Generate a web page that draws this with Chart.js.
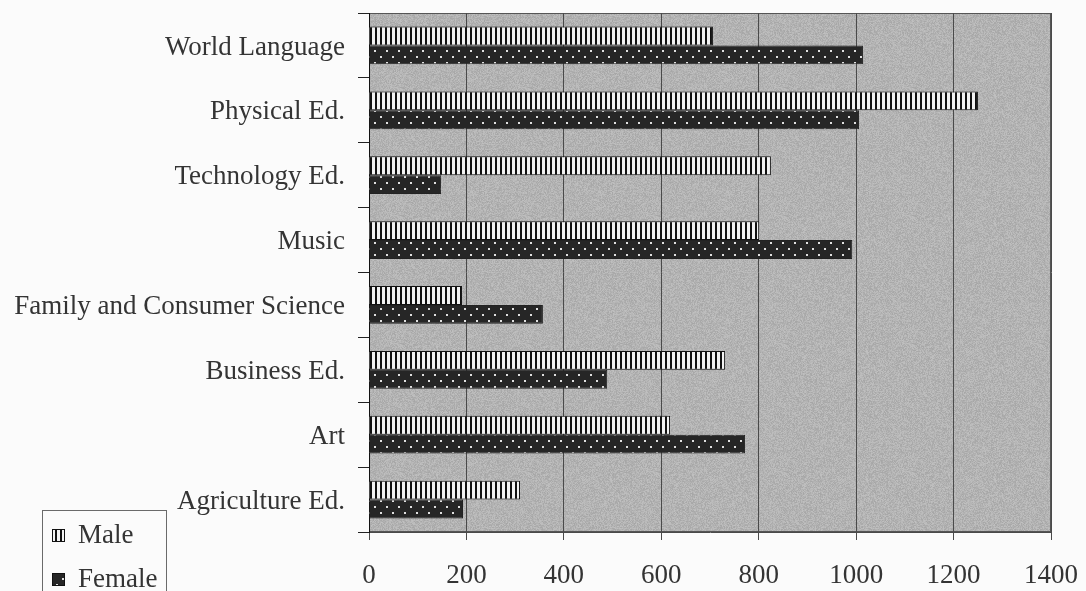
<!DOCTYPE html>
<html>
<head>
<meta charset="utf-8">
<script src="https://cdn.jsdelivr.net/npm/chart.js@4"></script>
<style>
  html, body { margin: 0; padding: 0; background: #fbfbfb; }
  #wrap { width: 1086px; height: 591px; position: relative; }
</style>
</head>
<body>
<div id="wrap"><canvas id="chart"></canvas></div>
<script>
// Enrollment by subject area and gender
const subjects = [
  'World Language', 'Physical Ed.', 'Technology Ed.', 'Music',
  'Family and Consumer Science', 'Business Ed.', 'Art', 'Agriculture Ed.'
];
const male   = [706, 1250, 825, 801, 191, 731, 618, 310];
const female = [1014, 1006, 148, 992, 357, 489, 772, 193];
const xTicks = [0, 200, 400, 600, 800, 1000, 1200, 1400];

const SERIF = '"Liberation Serif", "Times New Roman", serif';
const INK = '#343434';

// Vertical black/white stripes for the first series
function stripePattern() {
  const c = document.createElement('canvas');
  c.width = 5; c.height = 4;
  const g = c.getContext('2d');
  g.fillStyle = '#111';
  g.fillRect(0, 0, 5, 4);
  g.fillStyle = '#f2f2f2';
  g.fillRect(2, 0, 3, 4);
  return g.createPattern(c, 'repeat');
}

// Dark fill with a staggered grid of light dots for the second series
function dotPattern() {
  const c = document.createElement('canvas');
  c.width = 12; c.height = 12;
  const g = c.getContext('2d');
  g.fillStyle = '#262626';
  g.fillRect(0, 0, 12, 12);
  g.fillStyle = '#e0e0e0';
  g.fillRect(2, 2, 2, 2);
  g.fillRect(8, 8, 2, 2);
  return g.createPattern(c, 'repeat');
}

// Grainy grey texture for the plotting area (deterministic hash noise)
function grainPattern() {
  const size = 128;
  const c = document.createElement('canvas');
  c.width = size; c.height = size;
  const g = c.getContext('2d');
  const img = g.createImageData(size, size);
  for (let y = 0; y < size; y++) {
    for (let x = 0; x < size; x++) {
      let n = Math.imul(x, 374761393) + Math.imul(y, 668265263);
      n = Math.imul(n ^ (n >>> 13), 1274126177);
      n = (n ^ (n >>> 16)) & 255;
      const v = 179 + Math.round((n / 255 - 0.5) * 26);
      const i = (y * size + x) * 4;
      img.data[i] = v; img.data[i + 1] = v; img.data[i + 2] = v; img.data[i + 3] = 255;
    }
  }
  g.putImageData(img, 0, 0);
  return g.createPattern(c, 'repeat');
}

const plotBackground = {
  id: 'plotBackground',
  beforeDraw(chart) {
    const { ctx, chartArea: a } = chart;
    ctx.save();
    ctx.fillStyle = '#fbfbfb';
    ctx.fillRect(0, 0, chart.width, chart.height);
    ctx.fillStyle = grainPattern();
    ctx.fillRect(a.left, a.top, a.right - a.left, a.bottom - a.top);
    ctx.strokeStyle = '#555';
    ctx.lineWidth = 1;
    ctx.strokeRect(a.left + 0.5, a.top + 0.5, a.right - a.left - 1, a.bottom - a.top - 1);
    ctx.restore();
  }
};

// Boxed legend in the lower-left corner
const boxLegend = {
  id: 'boxLegend',
  afterDraw(chart) {
    const { ctx } = chart;
    ctx.save();
    ctx.strokeStyle = '#6a6a6a';
    ctx.lineWidth = 1;
    ctx.strokeRect(42.5, 510.5, 124, 90);
    ctx.font = '27px ' + SERIF;
    ctx.textBaseline = 'alphabetic';
    ctx.fillStyle = INK;
    chart.data.datasets.forEach((ds, i) => {
      const base = 543 + i * 44;
      ctx.fillStyle = ds.backgroundColor;
      ctx.fillRect(52, base - 14, 13, 13);
      ctx.strokeStyle = '#111';
      ctx.strokeRect(52.5, base - 13.5, 12, 12);
      ctx.fillStyle = INK;
      ctx.fillText(ds.label, 78, base);
    });
    ctx.restore();
  }
};

// Keep the plotting area where the layout padding puts it
function noOverhang(scale) {
  scale.paddingTop = 0;
  scale.paddingBottom = 0;
  scale.paddingLeft = 0;
  scale.paddingRight = 0;
}

new Chart(document.getElementById('chart'), {
  type: 'bar',
  data: {
    labels: subjects,
    datasets: [
      {
        label: 'Male',
        data: male,
        backgroundColor: stripePattern(),
        borderColor: '#111',
        borderWidth: 1,
        borderSkipped: 'start'
      },
      {
        label: 'Female',
        data: female,
        backgroundColor: dotPattern(),
        borderColor: '#222',
        borderWidth: 1,
        borderSkipped: 'start'
      }
    ]
  },
  options: {
    indexAxis: 'y',
    responsive: true,
    maintainAspectRatio: false,
    animation: false,
    layout: { padding: { left: 0, top: 13, right: 35, bottom: 0 } },
    datasets: { bar: { categoryPercentage: 0.58, barPercentage: 1.0 } },
    plugins: { legend: { display: false }, tooltip: { enabled: false } },
    scales: {
      x: {
        type: 'linear',
        min: 0,
        max: 1400,
        afterBuildTicks(scale) { scale.ticks = xTicks.map(v => ({ value: v })); },
        afterFit(scale) { scale.height = 59; noOverhang(scale); },
        grid: { color: '#4a4a4a', lineWidth: 1, tickLength: 8, drawTicks: true },
        border: { color: '#4a4a4a', width: 1 },
        ticks: {
          color: INK,
          padding: 20,
          font: { family: SERIF, size: 27 },
          maxRotation: 0,
          callback: v => String(v)
        }
      },
      y: {
        afterFit(scale) { scale.width = 369; noOverhang(scale); },
        grid: { drawOnChartArea: false, color: '#222', tickLength: 11, offset: true },
        border: { color: '#111', width: 1 },
        ticks: {
          color: INK,
          padding: 13,
          labelOffset: 2,
          font: { family: SERIF, size: 27 }
        }
      }
    }
  },
  plugins: [plotBackground, boxLegend]
});
</script>
</body>
</html>
